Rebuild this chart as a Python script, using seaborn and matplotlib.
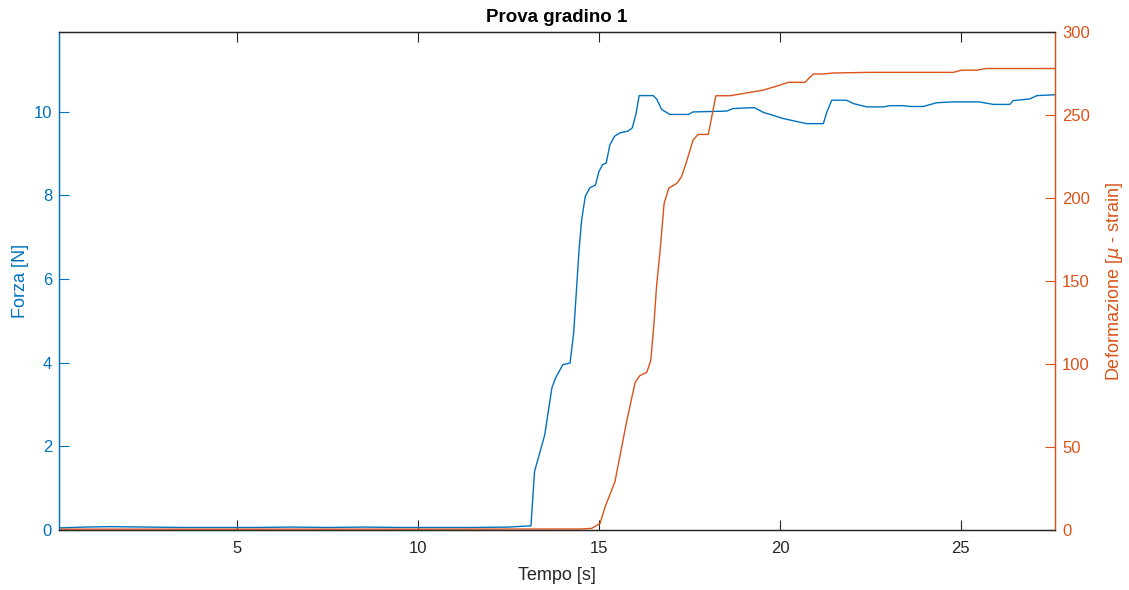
import matplotlib
matplotlib.use("Agg")
import pandas as pd
from matplotlib import pyplot as plt
import seaborn as sns

# Forza (asse sinistro)
t_forza = [0.08, 0.8, 1.5, 2.5, 3.5, 4.5, 5.5, 6.5, 7.5, 8.5, 9.5, 10.5, 11.5, 12.5,
           13.12, 13.22, 13.5, 13.7, 13.8, 14.0, 14.2, 14.3, 14.45, 14.52, 14.62, 14.75,
           14.9, 15.0, 15.1, 15.2, 15.3, 15.43, 15.58, 15.8, 15.92, 16.02, 16.11, 16.5,
           16.6, 16.73, 16.96, 17.47, 17.6, 18.53, 18.7, 19.17, 19.3, 19.54, 20.1, 20.74,
           21.2, 21.29, 21.43, 21.84, 22.03, 22.4, 22.85, 23.04, 23.4, 23.6, 23.96, 24.33,
           24.8, 25.5, 25.9, 26.35, 26.44, 26.9, 27.1, 27.6]
forza = [0.05, 0.07, 0.08, 0.07, 0.06, 0.06, 0.06, 0.07, 0.06, 0.07, 0.06, 0.06, 0.06, 0.07,
         0.1, 1.4, 2.27, 3.4, 3.63, 3.95, 3.99, 4.7, 6.7, 7.4, 7.97, 8.18,
         8.24, 8.57, 8.73, 8.77, 9.2, 9.41, 9.49, 9.53, 9.61, 9.93, 10.38, 10.38,
         10.29, 10.05, 9.93, 9.93, 9.99, 10.01, 10.07, 10.09, 10.09, 9.98, 9.83, 9.71,
         9.71, 9.97, 10.27, 10.27, 10.19, 10.11, 10.11, 10.14, 10.14, 10.12, 10.12, 10.21,
         10.23, 10.23, 10.17, 10.17, 10.26, 10.3, 10.38, 10.4]

# Deformazione (asse destro)
t_def = [0.08, 5, 10, 14.5, 14.8, 15.03, 15.17, 15.44, 15.77, 16.0, 16.13, 16.32, 16.43,
         16.52, 16.59, 16.69, 16.8, 16.93, 17.15, 17.28, 17.42, 17.6, 17.74, 18.02, 18.23,
         18.62, 19.54, 20.0, 20.23, 20.69, 20.92, 21.2, 21.47, 22.49, 24.79, 25.02, 25.43,
         25.7, 27.6]
deformazione = [0.5, 0.5, 0.5, 0.6, 1, 4, 14, 29, 66, 89, 93, 95, 102,
                124.5, 146.6, 168.7, 196.8, 206, 208.8, 212.8, 221.9, 235, 238.3, 238.3, 261.6,
                261.6, 265, 268, 269.7, 269.7, 274.7, 274.7, 275.3, 275.7, 275.7, 277, 277,
                278, 278]

x_ticks = [5, 10, 15, 20, 25]
y_left_ticks = [0, 2, 4, 6, 8, 10]
y_right_ticks = [0, 50, 100, 150, 200, 250, 300]

BLUE = "#0072BD"
ORANGE = "#D95319"
DARK = "#262626"

df_f = pd.DataFrame({"t": t_forza, "v": forza})
df_d = pd.DataFrame({"t": t_def, "v": deformazione})

sns.set_theme(style="white")
plt.rcParams["font.family"] = ["Liberation Sans", "DejaVu Sans"]

fig = plt.figure(figsize=(11.29, 5.90), dpi=100)
ax = fig.add_axes([59 / 1129, 60 / 590, 996 / 1129, 498 / 590])
ax2 = ax.twinx()

sns.lineplot(data=df_f, x="t", y="v", ax=ax, color=BLUE, linewidth=1.0)
sns.lineplot(data=df_d, x="t", y="v", ax=ax2, color=ORANGE, linewidth=1.0)

ax.set_xlim(0.08, 27.6)
ax.set_ylim(0, 11.9)
ax2.set_ylim(0, 300)
ax.set_xticks(x_ticks)
ax.set_yticks(y_left_ticks)
ax2.set_yticks(y_right_ticks)

for a in (ax, ax2):
    for s in a.spines.values():
        s.set_linewidth(0.9)
        s.set_color(DARK)
    a.spines["left"].set_color(BLUE)
    a.spines["right"].set_color(ORANGE)

ax.tick_params(axis="x", direction="in", length=7, width=0.8, colors=DARK,
               labelsize=12, top=True, bottom=True, pad=8)
ax.tick_params(axis="y", direction="in", length=7, width=0.8, colors=BLUE,
               labelsize=12, left=True, right=False, pad=5)
ax2.tick_params(axis="y", direction="in", length=7, width=0.8, colors=ORANGE,
                labelsize=12, right=True, left=False, pad=5)

ax.set_xlabel("Tempo [s]", fontsize=13, color=DARK, labelpad=8)
ax.set_ylabel("Forza [N]", fontsize=13, color=BLUE, labelpad=3)
ax2.set_ylabel(r"Deformazione [$\mu$ - strain]", fontsize=13, color=ORANGE, labelpad=10)
ax.set_title("Prova gradino 1", fontsize=13.5, fontweight="bold", color="black", pad=7)

fig.savefig("out.png", dpi=100)
